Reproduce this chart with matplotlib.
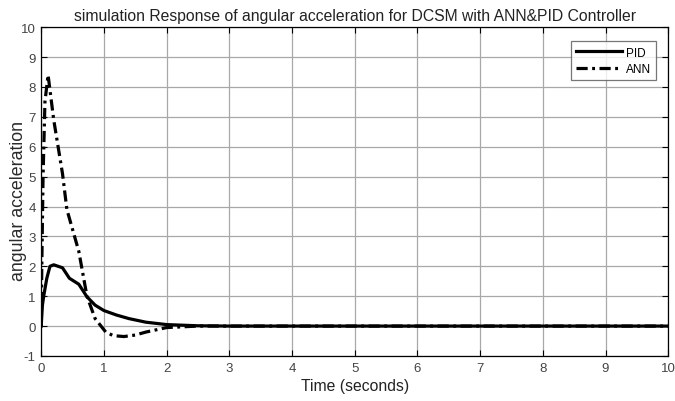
import numpy as np
import matplotlib
matplotlib.use("Agg")
import matplotlib.pyplot as plt

plt.rcParams["font.family"] = ["Liberation Sans", "DejaVu Sans"]
plt.rcParams["axes.unicode_minus"] = False

# PID response
pid_t = [0.0, 0.02, 0.04, 0.09, 0.14, 0.20, 0.34, 0.45, 0.60, 0.73, 0.86,
         1.00, 1.20, 1.40, 1.67, 2.00, 2.50, 3.00, 10.0]
pid_y = [0.0, 0.7, 1.0, 1.6, 2.0, 2.05, 1.95, 1.6, 1.4, 0.98, 0.7,
         0.52, 0.37, 0.25, 0.13, 0.05, 0.01, 0.0, 0.0]

# ANN response
ann_t = [0.0, 0.01, 0.03, 0.06, 0.11, 0.20, 0.34, 0.41, 0.60, 0.73, 0.86,
         1.03, 1.15, 1.32, 1.50, 1.67, 2.00, 2.50, 3.00, 10.0]
ann_y = [0.0, 2.0, 5.0, 7.5, 8.4, 6.9, 5.1, 3.9, 2.5, 1.0, 0.25,
         -0.2, -0.32, -0.35, -0.3, -0.2, -0.05, 0.0, 0.0, 0.0]

fig = plt.figure(figsize=(6.75, 4.02), dpi=100)
ax = fig.add_axes([0.061, 0.112, 0.929, 0.818])

ax.plot(pid_t, pid_y, "k-", lw=2.3, label="PID")
ax.plot(ann_t, ann_y, color="k", lw=2.3, dashes=(3.5, 1.4, 0.9, 1.4),
        label="ANN")

ax.set_xlim(0, 10)
ax.set_ylim(-1, 10)
ax.set_xticks(range(0, 11))
ax.set_yticks(range(-1, 11))
ax.grid(True, color="#a8a8a8", lw=0.9)
ax.tick_params(direction="in", top=True, right=True, labelsize=9.5,
               labelcolor="#444444", length=4, pad=4)
for s in ax.spines.values():
    s.set_linewidth(0.9)

ax.set_xlabel("Time (seconds)", fontsize=11.3, color="#222222", labelpad=3)
ax.set_ylabel("angular acceleration", fontsize=12.8, color="#2a2a2a")
ax.yaxis.set_label_coords(-0.022, 0.475)
ax.set_title("simulation Response of angular acceleration for DCSM with ANN&PID Controller",
             fontsize=11.3, color="#222222", pad=5)

leg = ax.legend(loc="upper right", bbox_to_anchor=(0.981, 0.957),
                borderaxespad=0, fontsize=8.5, frameon=True, fancybox=False,
                edgecolor="#555555", handlelength=3.9, borderpad=0.45,
                labelspacing=0.35, handletextpad=0.3)
leg.get_frame().set_linewidth(0.9)

fig.savefig("out.png", dpi=100)
